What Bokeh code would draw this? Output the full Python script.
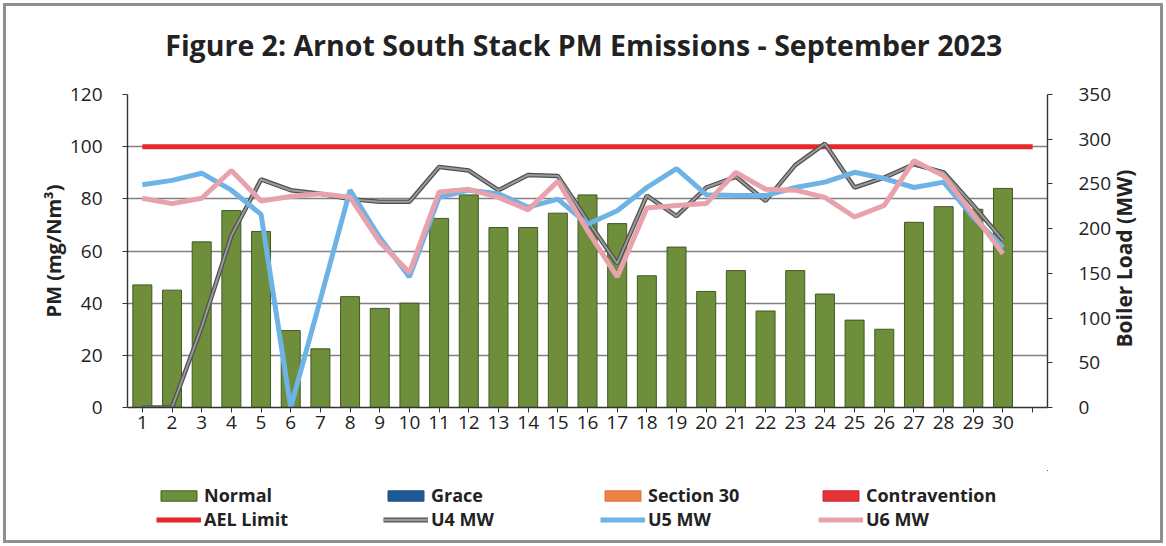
import math
from bokeh.plotting import figure
from bokeh.layouts import column
from bokeh.models import (Range1d, LinearAxis, FixedTicker, Legend, LegendItem,
                          ColumnDataSource)
from bokeh.embed import file_html
from bokeh.resources import INLINE

# ---------------- data ----------------
days = list(range(1, 31))
pm_normal = [47, 45, 63.5, 75.5, 67.5, 29.5, 22.5, 42.5, 38, 40,
             72.5, 81.5, 69, 69, 74.5, 81.5, 70.5, 50.5, 61.5, 44.5,
             52.5, 37, 52.5, 43.5, 33.5, 30, 71, 77, 76, 84]
u4_mw = [0, 0, 90, 192, 255, 243, 239, 233, 230, 230,
         269, 265, 243, 260, 259, 209, 161, 237, 214, 246,
         258, 231, 271, 295, 246, 257, 272, 263, 226, 187]
u5_mw = [249, 254, 262, 243, 216, 0, 121, 243, 190, 146,
         235, 243, 239, 224, 233, 205, 220, 246, 267, 238,
         237, 237, 246, 252, 263, 256, 246, 252, 213, 179]
u6_mw = [234, 228, 234, 265, 231, 236, 239, 235, 185, 151,
         241, 244, 235, 221, 253, 198, 146, 223, 226, 228,
         263, 244, 243, 235, 213, 226, 276, 259, 216, 172]
ael_x = [1, 31]
ael_limit = [100, 100]
# categories with no occurrences this month (legend only)
grace_days, grace_pm = [0], [0]
s30_days, s30_pm = [0], [0]
contra_days, contra_pm = [0], [0]
x_ticks = list(range(1, 32))
left_ticks = [0, 20, 40, 60, 80, 100, 120]
right_ticks = [0, 50, 100, 150, 200, 250, 300, 350]

FONT = "Open Sans"
TXT = "#222222"
W = 1154
H_MAIN = 464
H_LEG = 70
FRAME_LEFT = 121
NBSP = "\u00a0"

C_NORMAL, C_NORMAL_LINE = "#6E8E3C", "#3F5A22"
C_GRACE = "#1F5A96"
C_S30 = "#EC8344"
C_CONTRA = "#E8323A"
C_AEL = "#E8262B"
C_U4_DARK, C_U4 = "#505050", "#9A9A9A"
C_U5 = "#6EB3E6"
C_U6 = "#E8A2AC"

# ---------------- main chart ----------------
p = figure(width=W, height=H_MAIN, output_backend="svg", toolbar_location=None,
           x_range=Range1d(0.5, 31.5), y_range=Range1d(0, 120),
           min_border_left=FRAME_LEFT, min_border_right=113,
           min_border_top=88, min_border_bottom=63)
p.extra_y_ranges = {"mw": Range1d(0, 350)}
p.outline_line_color = None
p.border_fill_color = "white"

p.title.text = "Figure 2: Arnot South Stack PM Emissions -  September 2023"
p.title.align = "center"
p.title.text_font = FONT
p.title.text_font_size = "28.5px"
p.title.text_font_style = "bold"
p.title.text_color = TXT
p.title.standoff = 0

p.xgrid.visible = False
p.ygrid.ticker = FixedTicker(ticks=left_ticks)
p.ygrid.grid_line_color = "#808080"
p.ygrid.grid_line_width = 1.4


def style_axis(ax):
    ax.axis_line_color = "#333333"
    ax.axis_line_width = 1.4
    ax.major_tick_line_color = "#333333"
    ax.major_tick_in = 0
    ax.major_tick_out = 5
    ax.minor_tick_line_color = None
    ax.major_label_text_font = FONT
    ax.major_label_text_font_size = "19px"
    ax.major_label_text_color = TXT
    ax.axis_label_text_font = FONT
    ax.axis_label_text_font_style = "bold"
    ax.axis_label_text_color = TXT


xa = p.below[0]
style_axis(xa)
xa.ticker = FixedTicker(ticks=x_ticks)
xa.major_label_overrides = {31: ""}
xa.major_label_standoff = 3

ya = p.left[0]
style_axis(ya)
ya.ticker = FixedTicker(ticks=left_ticks)
ya.major_label_standoff = 20
ya.axis_label = "PM (mg/Nm³)"
ya.axis_label_text_font_size = "20px"
ya.axis_label_standoff = 0

ra = LinearAxis(y_range_name="mw", ticker=FixedTicker(ticks=right_ticks))
style_axis(ra)
ra.major_label_standoff = 26
ra.axis_label_text_font_size = "21px"
ra.axis_label_standoff = 10
try:
    ra.axis_label_align = "start"
    ra.axis_label_orientation = math.pi / 2
    ra.axis_label = NBSP * 11 + "Boiler Load (MW)"
except Exception:
    ra.axis_label = "Boiler Load (MW)"
    ra.axis_label_orientation = "vertical"
p.add_layout(ra, "right")

# invisible spacer between the title and the plot area (one hidden tick)
spacer = LinearAxis(ticker=FixedTicker(ticks=[1]), axis_line_color=None,
                    major_tick_line_color=None, minor_tick_line_color=None,
                    major_tick_in=0, major_tick_out=31,
                    minor_tick_in=0, minor_tick_out=0,
                    major_label_standoff=0, major_label_text_font_size="0px",
                    major_label_overrides={1: ""})
p.add_layout(spacer, "above")

bar_src = ColumnDataSource(dict(x=days, top=pm_normal))
p.vbar(x="x", top="top", width=0.64, source=bar_src,
       fill_color=C_NORMAL, line_color=C_NORMAL_LINE, line_width=1)

p.line(ael_x, ael_limit, line_color=C_AEL, line_width=5)
p.line(days, u4_mw, y_range_name="mw", line_color=C_U4_DARK, line_width=4.5)
p.line(days, u4_mw, y_range_name="mw", line_color=C_U4, line_width=2)
p.line(days, u5_mw, y_range_name="mw", line_color=C_U5, line_width=5)
p.line(days, u6_mw, y_range_name="mw", line_color=C_U6, line_width=5)

# ---------------- legend strip ----------------
# Its ranges sit away from the data, so only the legend swatches show.
lg = figure(width=W, height=H_LEG, output_backend="svg", toolbar_location=None,
            x_range=Range1d(-20, -19), y_range=Range1d(-20, -19),
            x_axis_type=None, y_axis_type=None,
            min_border_left=0, min_border_right=0,
            min_border_top=0, min_border_bottom=0)
lg.grid.visible = False
lg.outline_line_color = None
lg.border_fill_color = "white"

r_normal = lg.vbar(x=days, top=pm_normal, width=0.6, fill_color=C_NORMAL, line_color=C_NORMAL_LINE)
r_grace = lg.vbar(x=grace_days, top=grace_pm, width=0.6, fill_color=C_GRACE, line_color="#1F4F85")
r_s30 = lg.vbar(x=s30_days, top=s30_pm, width=0.6, fill_color=C_S30, line_color="#E07438")
r_contra = lg.vbar(x=contra_days, top=contra_pm, width=0.6, fill_color=C_CONTRA, line_color="#D62830")
r_ael = lg.line(x=ael_x, y=ael_limit, line_color=C_AEL, line_width=5)
r_u4b = lg.line(x=days, y=u4_mw, line_color=C_U4_DARK, line_width=5)
r_u4 = lg.line(x=days, y=u4_mw, line_color=C_U4, line_width=2.5)
r_u5 = lg.line(x=days, y=u5_mw, line_color=C_U5, line_width=5)
r_u6 = lg.line(x=days, y=u6_mw, line_color=C_U6, line_width=5)

cols = [
    (150, [("Normal", [r_normal]), ("AEL Limit", [r_ael])]),
    (377, [("Grace", [r_grace]), ("U4 MW", [r_u4b, r_u4])]),
    (594, [("Section 30", [r_s30]), ("U5 MW", [r_u5])]),
    (812, [("Contravention", [r_contra]), ("U6 MW", [r_u6])]),
]
for cx, items in cols:
    leg = Legend(items=[LegendItem(label=lab, renderers=rs) for lab, rs in items],
                 location=(cx - FRAME_LEFT, 9), orientation="vertical",
                 padding=0, margin=0, spacing=0,
                 glyph_width=45, glyph_height=13, label_height=20,
                 label_standoff=3, border_line_color=None,
                 background_fill_alpha=0,
                 label_text_font=FONT, label_text_font_size="18px",
                 label_text_font_style="bold", label_text_color=TXT)
    lg.add_layout(leg, "center")

page = column(p, lg, spacing=0,
              styles={"border": "3px solid #8F8F8F", "margin": "3px",
                      "background-color": "white"})

open("out.html", "w").write(file_html(page, INLINE))
